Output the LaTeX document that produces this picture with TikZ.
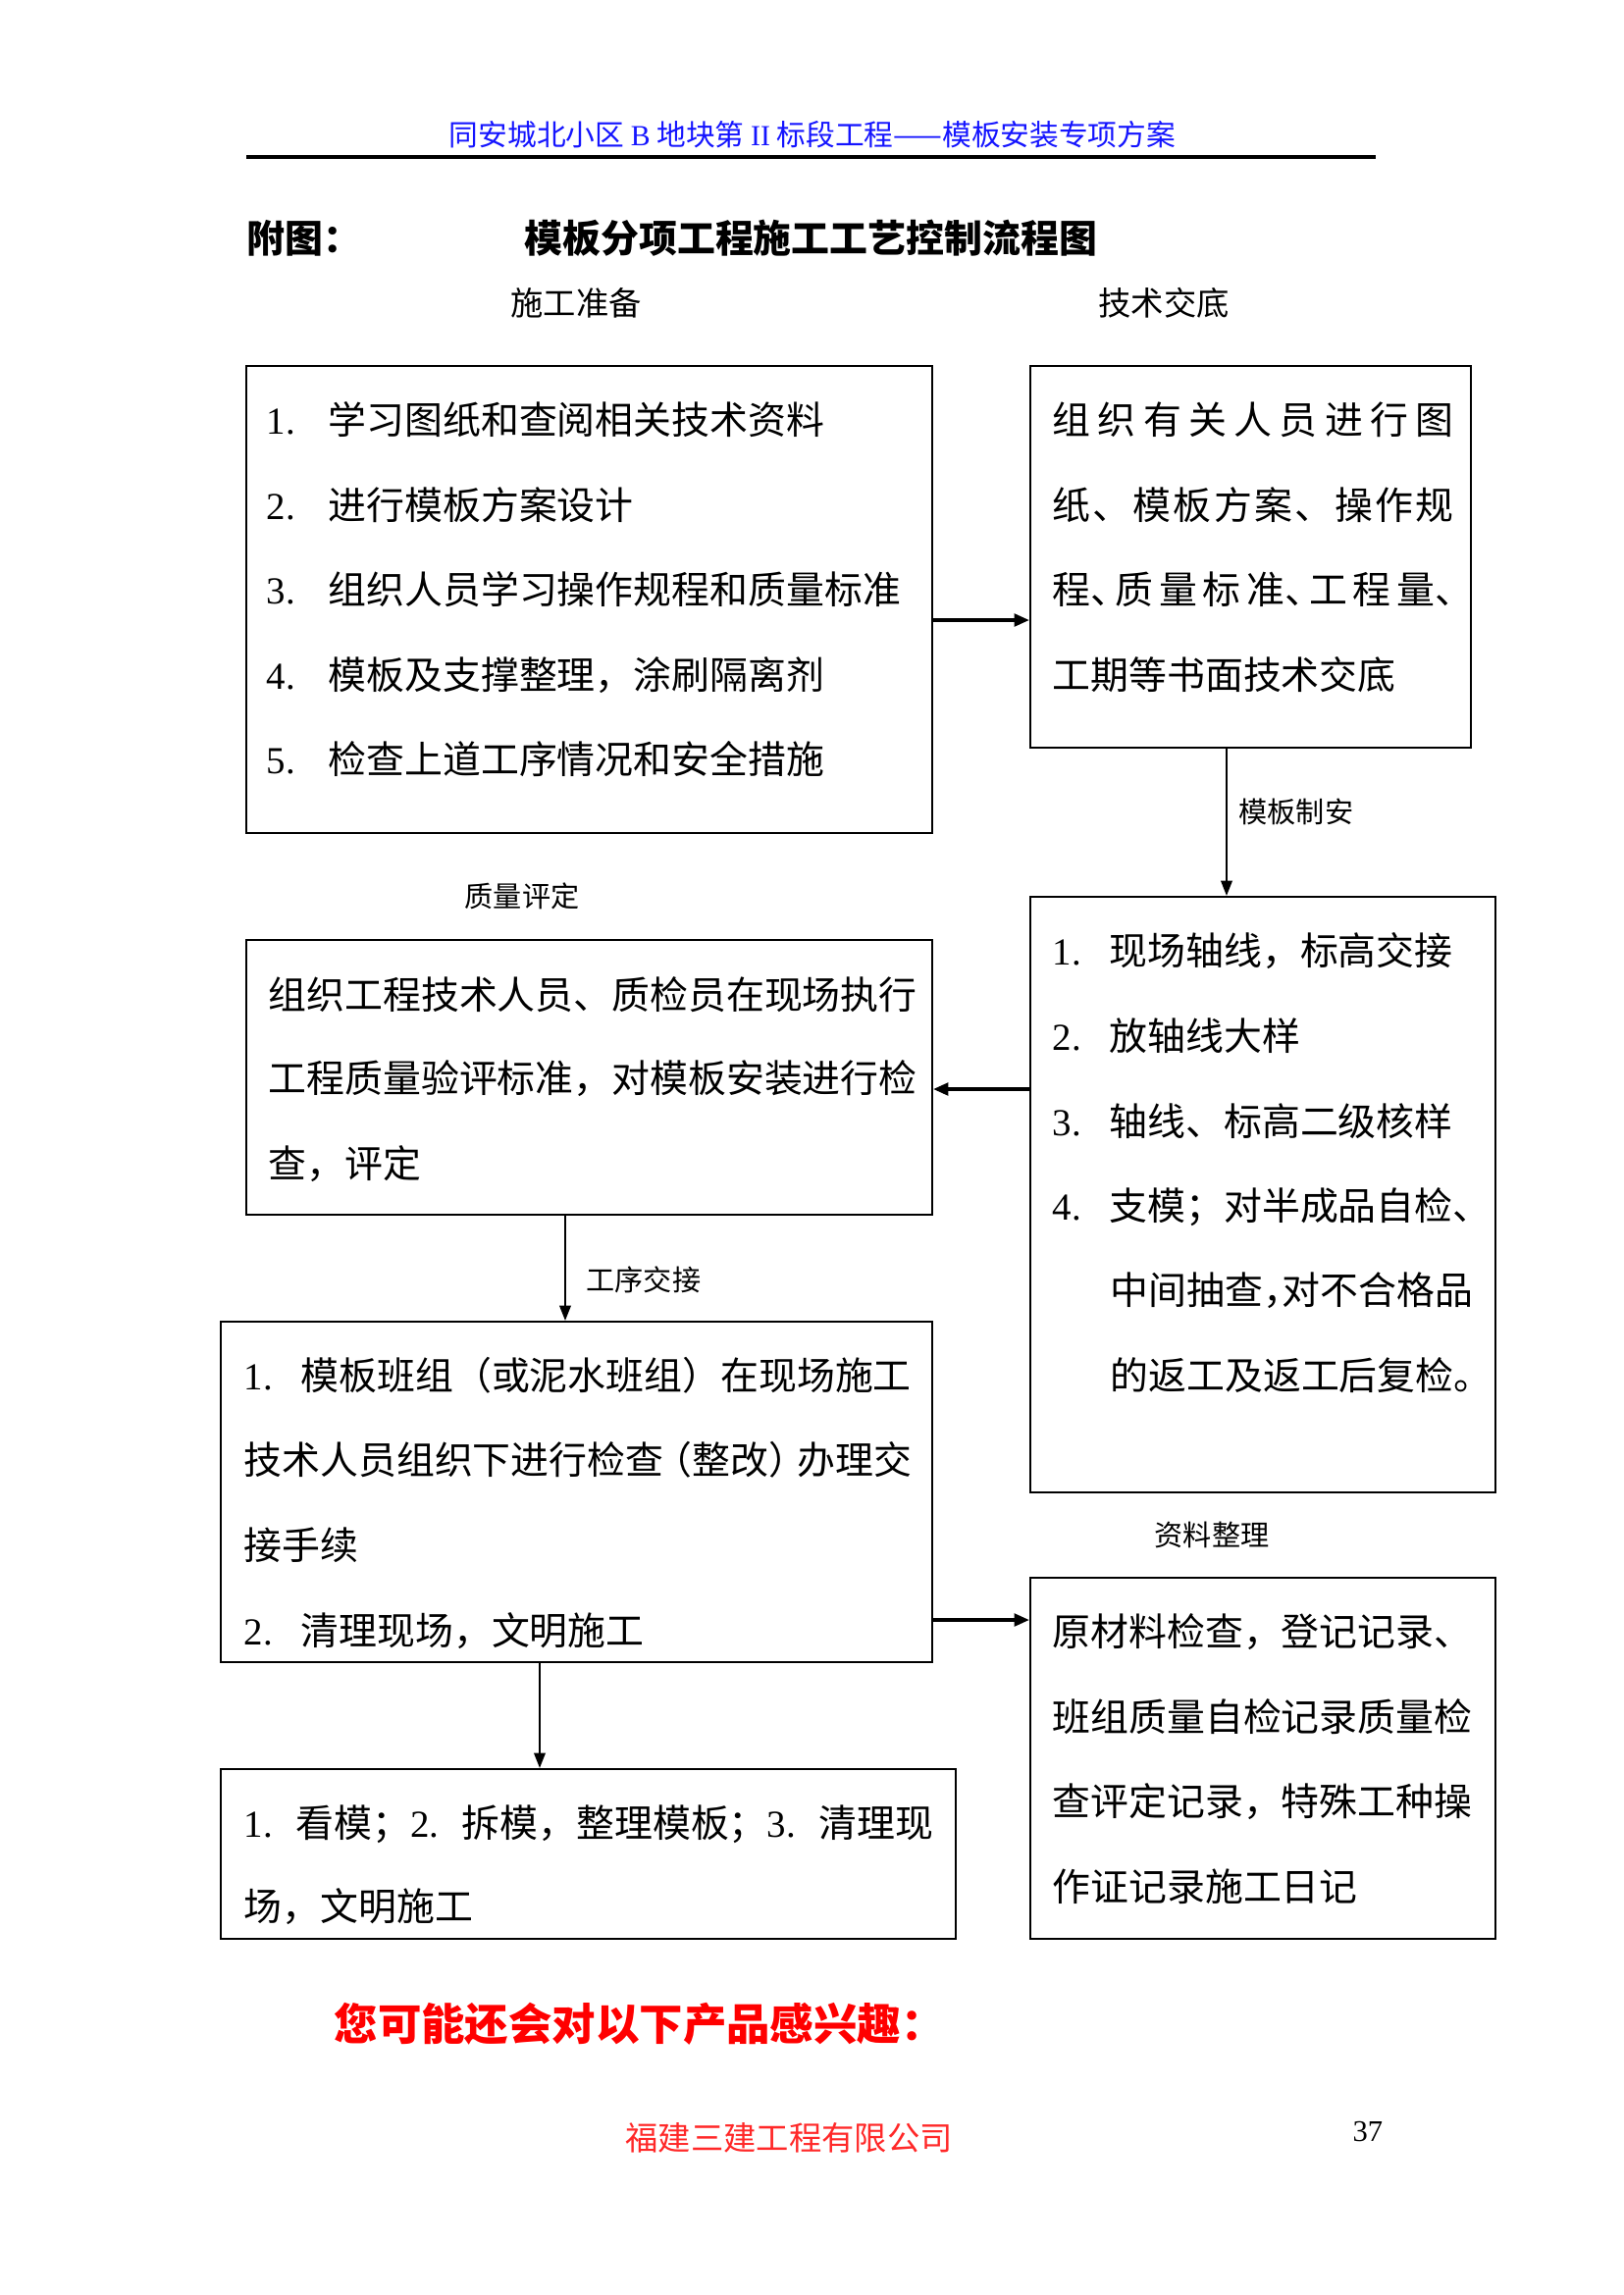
\documentclass[tikz,border=0pt]{standalone}
\usepackage{fontspec}
\setmainfont{Liberation Serif}
\newfontfamily\cjk{Noto Sans CJK SC}
\usetikzlibrary{arrows.meta,fit}
\newcommand\nm[2][20.9pt]{\makebox[#1][l]{\rmfamily #2}}
\newcommand\dun{\makebox[0.5em][l]{、}}
\newcommand\hdou{\makebox[0.5em][l]{，}}
\newcommand\lkh{\makebox[0.75em][r]{（}}
\newcommand\rkh{\makebox[0.75em][l]{）}}
\newcommand\spl[1]{\makebox[147.3pt][s]{#1}}
\definecolor{hdrblue}{RGB}{20,20,255}
\definecolor{ftred}{RGB}{255,40,40}
\begin{document}
\begin{tikzpicture}[x=0.36pt,y=-0.36pt,
  box/.style={draw, line width=0.8pt, inner sep=0pt},
  t14/.style={inner sep=0pt, anchor=west, font=\cjk\fontsize{14pt}{16pt}\selectfont, text height=12.3pt, text depth=1.7pt},
  t12/.style={inner sep=0pt, font=\cjk\fontsize{12pt}{14pt}\selectfont, text height=10.6pt, text depth=1.4pt},
  t105/.style={inner sep=0pt, font=\cjk\fontsize{10.5pt}{12pt}\selectfont, text height=9.2pt, text depth=1.3pt},
  harr/.style={line width=1.1pt, -{Triangle[length=5.5pt,width=4.6pt]}},
  varr/.style={line width=0.55pt, -{Triangle[length=5.5pt,width=4.2pt]}}
]
\useasboundingbox (0,0) rectangle (1654,2339);

% header
\node[inner sep=0pt, font=\cjk\fontsize{10.7pt}{12.5pt}\selectfont, text=hdrblue, text height=9.4pt, text depth=1.3pt] (hdr) at (828,137)
  {同安城北小区 {\rmfamily B} 地块第 {\rmfamily II} 标段工程——模板安装专项方案};
\coordinate (hlL) at (251,160);
\coordinate (hlR) at (1402,160);
\draw[line width=1.1pt] (hlL) -- (hlR);

% title
\node[t14, font=\cjk\bfseries\fontsize{14pt}{16pt}\selectfont] (fu) at (251,243) {附图：};
\node[t14, font=\cjk\bfseries\fontsize{14pt}{16pt}\selectfont] (title) at (534,243) {模板分项工程施工工艺控制流程图};

% labels
\node[t12] (l1) at (587,309) {施工准备};
\node[t12] (l2) at (1186,309) {技术交底};
\node[t105, anchor=west] (l3) at (1262,828) {模板制安};
\node[t105] (l4) at (532,914) {质量评定};
\node[t105, anchor=west] (l5) at (597,1305) {工序交接};
\node[t105] (l6) at (1235,1565) {资料整理};

% boxes
\node[box, fit={(251,373) (950,849)}] (A) {};
\node[box, fit={(1050,373) (1499,762)}] (B) {};
\node[box, fit={(251,958) (950,1238)}] (C) {};
\node[box, fit={(1050,914) (1524,1521)}] (D) {};
\node[box, fit={(225,1347) (950,1694)}] (E) {};
\node[box, fit={(1050,1608) (1524,1976)}] (F) {};
\node[box, fit={(225,1803) (974,1976)}] (G) {};

% box A text
\node[t14] (a1) at (271,428) {\nm[22.7pt]{1.}学习图纸和查阅相关技术资料};
\node[t14] (a2) at (271,515) {\nm[22.7pt]{2.}进行模板方案设计};
\node[t14] (a3) at (271,601) {\nm[22.7pt]{3.}组织人员学习操作规程和质量标准};
\node[t14] (a4) at (271,688) {\nm[22.7pt]{4.}模板及支撑整理，涂刷隔离剂};
\node[t14] (a5) at (271,774) {\nm[22.7pt]{5.}检查上道工序情况和安全措施};

% box B text
\node[t14] (b1) at (1072,428) {\spl{组\hfil 织\hfil 有\hfil 关\hfil 人\hfil 员\hfil 进\hfil 行\hfil 图}};
\node[t14] (b2) at (1072,515) {\spl{纸\hfil 、\hfil 模\hfil 板\hfil 方\hfil 案\hfil 、\hfil 操\hfil 作\hfil 规}};
\node[t14] (b3) at (1072,601) {\spl{程\dun\hfil 质\hfil 量\hfil 标\hfil 准\dun\hfil 工\hfil 程\hfil 量\dun}};
\node[t14] (b4) at (1072,688) {工期等书面技术交底};

% box C text
\node[t14] (c1) at (273,1014) {组织工程技术人员、质检员在现场执行};
\node[t14] (c2) at (273,1099) {工程质量验评标准，对模板安装进行检};
\node[t14] (c3) at (273,1186) {查，评定};

% box D text
\node[t14] (d1) at (1072,969) {\nm{1.}现场轴线，标高交接};
\node[t14] (d2) at (1072,1056) {\nm{2.}放轴线大样};
\node[t14] (d3) at (1072,1143) {\nm{3.}轴线、标高二级核样};
\node[t14] (d4) at (1072,1229) {\nm{4.}支模；对半成品自检\dun};
\node[t14] (d5) at (1131,1315) {中间抽查\hdou 对不合格品};
\node[t14] (d6) at (1131,1402) {的返工及返工后复检。};

% box E text
\node[t14] (e1) at (248,1402) {\nm{1.}模板班组（或泥水班组）在现场施工};
\node[t14] (e2) at (248,1488) {技术人员组织下进行检查\lkh 整改\rkh 办理交};
\node[t14] (e3) at (248,1575) {接手续};
\node[t14] (e4) at (248,1662) {\nm{2.}清理现场，文明施工};

% box F text
\node[t14] (f1) at (1072,1663) {原材料检查，登记记录\dun};
\node[t14] (f2) at (1072,1750) {班组质量自检记录质量检};
\node[t14] (f3) at (1072,1836) {查评定记录，特殊工种操};
\node[t14] (f4) at (1072,1923) {作证记录施工日记};

% box G text
\node[t14] (g1) at (248,1858) {\nm[19pt]{1.}看模；\nm[19pt]{2.}拆模，整理模板；\nm[19pt]{3.}清理现};
\node[t14] (g2) at (248,1943) {场，文明施工};

% connectors
\coordinate (yAB) at (0,632);
\coordinate (xBD) at (1250,0);
\coordinate (yDC) at (0,1110);
\coordinate (xCE) at (576,0);
\coordinate (yEF) at (0,1651);
\coordinate (xEG) at (550,0);
\draw[harr] (A.east |- yAB) -- (B.west |- yAB);
\draw[varr] (B.south -| xBD) -- (D.north -| xBD);
\draw[harr] (D.west |- yDC) -- (C.east |- yDC);
\draw[varr] (C.south -| xCE) -- (E.north -| xCE);
\draw[harr] (E.east |- yEF) -- (F.west |- yEF);
\draw[varr] (E.south -| xEG) -- (G.north -| xEG);

% bottom
\node[t14, font=\cjk\bfseries\fontsize{16pt}{18pt}\selectfont, text=red, text height=14pt, text depth=2pt] (ad) at (340,2063) {您可能还会对以下产品感兴趣：};
\node[t12, anchor=west, text=ftred] (ft) at (637,2179) {福建三建工程有限公司};
\node[inner sep=0pt, anchor=west, font=\rmfamily\fontsize{11pt}{13pt}\selectfont] (pg) at (1378,2173) {37};
\end{tikzpicture}
\end{document}
